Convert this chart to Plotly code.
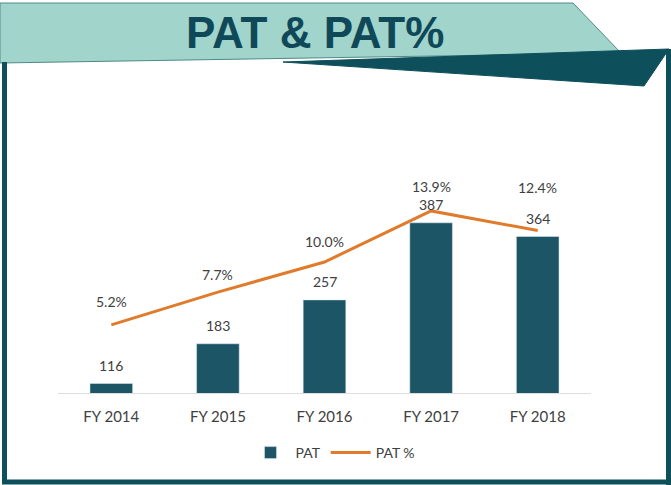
import plotly.graph_objects as go

# data
years = ["FY 2014", "FY 2015", "FY 2016", "FY 2017", "FY 2018"]
pat = [116, 183, 257, 387, 364]
pat_pct = [5.2, 7.7, 10.0, 13.9, 12.4]

# layout tweaks (pixels)
W, H = 671, 485
PLOT_L, PLOT_R, PLOT_T, PLOT_B = 58, 591, 160, 393
pct_label_shift = [23, 18, 21, 24, 43]

DARK = "#0e4f5c"
BAR = "#1b5566"
ORANGE = "#e07b2c"
TEXT = "#404040"
BAND = "#a1d4ca"


def px(x, y):
    """pixel position -> paper coords"""
    return ((x - PLOT_L) / (PLOT_R - PLOT_L),
            (PLOT_B - y) / (PLOT_B - PLOT_T))


def poly(points, **kw):
    pts = [px(x, y) for x, y in points]
    path = "M " + " L ".join(f"{a},{b}" for a, b in pts) + " Z"
    return dict(type="path", xref="paper", yref="paper", path=path,
                layer="above", **kw)


def seg(x0, y0, x1, y1, width, color):
    a, b = px(x0, y0)
    c, d = px(x1, y1)
    return dict(type="line", xref="paper", yref="paper", x0=a, y0=b, x1=c, y1=d,
                line=dict(color=color, width=width), layer="above")


fig = go.Figure()

fig.add_trace(go.Bar(
    name="PAT", x=years, y=pat, marker_color=BAR, width=0.4,
    hoverinfo="x+y",
))
fig.add_trace(go.Scatter(
    name="PAT %", x=years, y=pat_pct, yaxis="y2", mode="lines",
    line=dict(color=ORANGE, width=3),
))

annotations = []
for x, v in zip(years, pat):
    annotations.append(dict(x=x, y=v, text=str(v), showarrow=False, yshift=18,
                            font=dict(size=14, color=TEXT)))
for x, v, s in zip(years, pat_pct, pct_label_shift):
    annotations.append(dict(x=x, y=v, yref="y2", text=f"{v:.1f}%", showarrow=False,
                            yshift=s, font=dict(size=14, color=TEXT)))

tx, ty = px(315, 32)
annotations.append(dict(
    x=tx, y=ty, xref="paper", yref="paper", xanchor="center", yanchor="middle",
    text="PAT & PAT%", showarrow=False,
    font=dict(family="Liberation Sans, Arial, sans-serif",
              size=44, color="#0f4858", weight="bold"),
))

shapes = [
    # title band
    poly([(0, 3), (573, 3), (621, 53), (0, 63)], fillcolor=BAND,
         line=dict(color="#4f8a88", width=1)),
    poly([(283, 62), (669, 49), (644, 86)], fillcolor=DARK,
         line=dict(color=DARK, width=1)),
    # frame
    seg(4.5, 62, 4.5, 483, 5, DARK),
    seg(2, 482, 671, 482, 5, DARK),
    seg(668.5, 49, 668.5, 485, 5, DARK),
]

y1_top = 100 + (PLOT_B - PLOT_T) / 0.593
y2_top = (PLOT_B - PLOT_T) / 13.1

lx, ly = px(333, 453)
fig.update_layout(
    width=W, height=H,
    margin=dict(l=PLOT_L, r=W - PLOT_R, t=PLOT_T, b=H - PLOT_B),
    paper_bgcolor="white", plot_bgcolor="white",
    font=dict(family="Lato, Open Sans, sans-serif", color=TEXT),
    xaxis=dict(showline=True, linecolor="#dedede", linewidth=1, ticks="",
               tickfont=dict(size=15, color=TEXT), ticklabelstandoff=10,
               showgrid=False),
    yaxis=dict(range=[100, y1_top], visible=False),
    yaxis2=dict(range=[0, y2_top], overlaying="y", visible=False),
    showlegend=True,
    legend=dict(orientation="h", x=lx, y=ly, xanchor="center", yanchor="middle",
                font=dict(size=14, color=TEXT), itemwidth=40,
                bgcolor="rgba(0,0,0,0)"),
    annotations=annotations,
    shapes=shapes,
)

fig.write_html("out.html", config={"displayModeBar": False},
               post_script="document.body.style.margin='0';")
